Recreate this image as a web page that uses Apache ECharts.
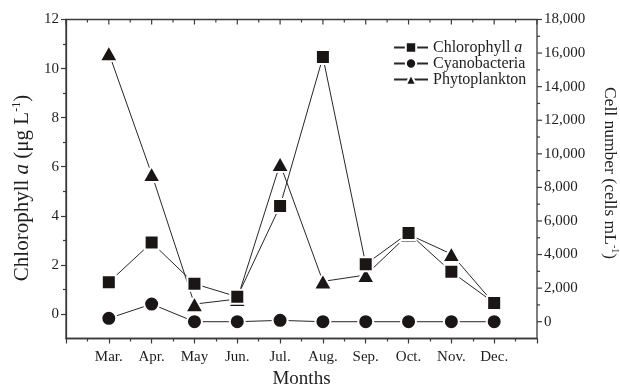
<!DOCTYPE html>
<html>
<head>
<meta charset="utf-8">
<script src="https://cdn.jsdelivr.net/npm/echarts@6/dist/echarts.min.js"></script>
<style>
  html, body { margin: 0; padding: 0; background: #fff; }
  #chart { width: 620px; height: 384px; }
</style>
</head>
<body>
<div id="chart"></div>
<script>
// Monthly sampling: chlorophyll a (µg/L) on the left axis,
// cyanobacteria and phytoplankton cell counts (cells/mL) on the right axis.
const months = ['Mar.', 'Apr.', 'May', 'Jun.', 'Jul.', 'Aug.', 'Sep.', 'Oct.', 'Nov.', 'Dec.'];
const chlorophyll = [1.29, 2.91, 1.23, 0.70, 4.40, 10.47, 2.03, 3.30, 1.72, 0.45];
const cyanobacteria = [200, 1050, 0, 0, 80, 0, 0, 0, 0, 0];
const phytoplankton = [16000, 8800, 1050, 1350, 9400, 2400, 2780, 5200, 4030, 1070];

const chlTicks = [0, 2, 4, 6, 8, 10, 12];
const chlMinorTicks = [1, 3, 5, 7, 9, 11];
const cellTicks = [0, 2000, 4000, 6000, 8000, 10000, 12000, 14000, 16000, 18000];
const cellMinorTicks = [1000, 3000, 5000, 7000, 9000, 11000, 13000, 15000, 17000];
const monthTicks = [0, 1, 2, 3, 4, 5, 6, 7, 8, 9, 10, 11];
const monthMinorTicks = [0.5, 1.5, 2.5, 3.5, 4.5, 5.5, 6.5, 7.5, 8.5, 9.5, 10.5];

const FONT = 'Liberation Serif';
const INK = '#1b1616';
const AXIS = '#3a3a3a';
const TEXT = '#1e1e1e';
const FRAME_W = 1.3;

// month i sits at x = i + 1, leaving one step of frame on each side
const toPoints = values => values.map((v, i) => [i + 1, v]);

const frameLine = () => ({ show: true, onZero: false, lineStyle: { color: AXIS, width: FRAME_W } });
const noLine = () => ({ show: false, onZero: false });
const tickStyle = () => ({ color: AXIS, width: 1.2 });
const tickLabel = extra => Object.assign({ fontFamily: FONT, fontSize: 15, color: TEXT }, extra);

const richTitle = size => ({
  n: { fontFamily: FONT, fontSize: size, color: TEXT, lineHeight: size + 3 },
  i: { fontFamily: FONT, fontSize: size, color: TEXT, fontStyle: 'italic', lineHeight: size + 3 },
  s: { fontFamily: FONT, fontSize: Math.round(size * 0.58), color: TEXT, verticalAlign: 'top', lineHeight: size + 3 }
});

// both grids share one rectangle: grid 0 holds the data and main axes,
// grid 1 only carries the minor ticks of the chlorophyll axis
const plotRect = { left: 66, right: 83, top: 19.5, bottom: 45.5, containLabel: false, outerBoundsMode: 'none', show: false };

const chart = echarts.init(document.getElementById('chart'), null, { renderer: 'canvas' });

chart.setOption({
  animation: false,
  backgroundColor: '#fff',
  textStyle: { fontFamily: FONT, color: TEXT },
  grid: [Object.assign({}, plotRect), Object.assign({}, plotRect)],
  legend: {
    data: ['Chlorophyll a', 'Cyanobacteria', 'Phytoplankton'],
    orient: 'vertical',
    left: 393,
    top: 39.5,
    padding: 0,
    itemWidth: 34,
    itemHeight: 13,
    itemGap: 0,
    textStyle: {
      fontFamily: FONT, fontSize: 16, color: TEXT, lineHeight: 15,
      rich: {
        n: { fontFamily: FONT, fontSize: 16, color: TEXT, lineHeight: 15 },
        i: { fontFamily: FONT, fontSize: 16, color: TEXT, fontStyle: 'italic', lineHeight: 15 }
      }
    },
    formatter: name => name === 'Chlorophyll a' ? '{n|Chlorophyll }{i|a}' : '{n|' + name + '}'
  },
  xAxis: [
    {
      gridIndex: 0, type: 'value', position: 'bottom', min: 0, max: 11, interval: 1,
      axisLine: frameLine(),
      axisTick: { show: true, inside: false, length: 5, lineStyle: tickStyle() },
      minorTick: { show: true, splitNumber: 2, length: 3, lineStyle: tickStyle() },
      splitLine: { show: false },
      minorSplitLine: { show: false },
      axisLabel: tickLabel({ formatter: v => months[v - 1] || '', margin: 11 }),
      name: 'Months', nameLocation: 'middle', nameGap: 28,
      nameTextStyle: { fontFamily: FONT, fontSize: 19, color: TEXT, verticalAlign: 'top' }
    },
    {
      gridIndex: 1, type: 'value', position: 'bottom', min: 0, max: 11,
      show: false
    }
  ],
  yAxis: [
    {
      gridIndex: 0, type: 'value', position: 'left', min: -1, max: 12,
      axisLine: frameLine(),
      axisTick: { show: true, inside: false, length: 5, lineStyle: tickStyle(), customValues: chlTicks },
      axisLabel: tickLabel({ customValues: chlTicks, margin: 7 }),
      splitLine: { show: false },
      name: '{n|Chlorophyll }{i|a}{n| (μg L}{s|-1}{n|)}',
      nameLocation: 'middle', nameGap: 27, nameRotate: 90,
      nameTextStyle: { rich: richTitle(21), padding: [0, 18, 0, 0] }
    },
    {
      gridIndex: 0, type: 'value', position: 'right', min: -1000, max: 18000,
      axisLine: noLine(),
      axisTick: { show: false },
      axisLabel: tickLabel({ customValues: cellTicks, formatter: v => v.toLocaleString('en-US'), margin: 7 }),
      splitLine: { show: false },
      name: '{n|Cell number (cells mL}{s|-1}{n|)}',
      nameLocation: 'middle', nameGap: 62, nameRotate: -90,
      nameTextStyle: { rich: richTitle(17.5), padding: [0, 12, 0, 0] }
    },
    {
      // minor ticks on the chlorophyll axis
      gridIndex: 1, type: 'value', position: 'left', min: -1, max: 12,
      axisLine: noLine(),
      axisTick: { show: true, inside: false, length: 3, lineStyle: tickStyle(), customValues: chlMinorTicks },
      axisLabel: { show: false },
      splitLine: { show: false }
    }
  ],
  series: [
    {
      name: 'Cyanobacteria', type: 'line', xAxisIndex: 0, yAxisIndex: 1,
      data: toPoints(cyanobacteria),
      symbol: 'circle', symbolSize: 15,
      lineStyle: { color: '#2a2626', width: 1 },
      itemStyle: { color: INK, borderColor: '#fff', borderWidth: 2 },
      z: 2
    },
    {
      name: 'Phytoplankton', type: 'line', xAxisIndex: 0, yAxisIndex: 1,
      data: toPoints(phytoplankton),
      symbol: 'triangle', symbolSize: [18, 16],
      lineStyle: { color: '#2a2626', width: 1 },
      itemStyle: { color: INK, borderColor: '#fff', borderWidth: 2, borderJoin: 'round' },
      z: 3
    },
    {
      name: 'Chlorophyll a', type: 'line', xAxisIndex: 0, yAxisIndex: 0,
      data: toPoints(chlorophyll),
      symbol: 'rect', symbolSize: 14,
      lineStyle: { color: '#2a2626', width: 1 },
      itemStyle: { color: INK, borderColor: '#fff', borderWidth: 2 },
      z: 4
    }
  ]
});

// Closed frame plus the top (inward) and right (outward) tick rows,
// positioned through the axes' own scales.
const px = v => chart.convertToPixel({ xAxisIndex: 0 }, v);
const pyCells = v => chart.convertToPixel({ yAxisIndex: 1 }, v);
const frameLeft = px(0), frameRight = px(11);
const frameTop = chart.convertToPixel({ yAxisIndex: 0 }, 12);
const frameBottom = chart.convertToPixel({ yAxisIndex: 0 }, -1);

const strokeStyle = { stroke: AXIS, lineWidth: FRAME_W, fill: null };
const tickLine = (x1, y1, x2, y2) => ({
  type: 'line', z: 100, silent: true,
  shape: { x1, y1, x2, y2 },
  style: { stroke: AXIS, lineWidth: 1.2 }
});

const frameElements = [
  {
    type: 'rect', z: 100, silent: true,
    shape: { x: frameLeft, y: frameTop, width: frameRight - frameLeft, height: frameBottom - frameTop },
    style: strokeStyle
  }
];
monthTicks.forEach(v => frameElements.push(tickLine(px(v), frameTop, px(v), frameTop + 5)));
monthMinorTicks.forEach(v => frameElements.push(tickLine(px(v), frameTop, px(v), frameTop + 3)));
cellTicks.forEach(v => frameElements.push(tickLine(frameRight, pyCells(v), frameRight + 5, pyCells(v))));
cellMinorTicks.forEach(v => frameElements.push(tickLine(frameRight, pyCells(v), frameRight + 3, pyCells(v))));

chart.setOption({ graphic: { elements: frameElements } });
</script>
</body>
</html>
